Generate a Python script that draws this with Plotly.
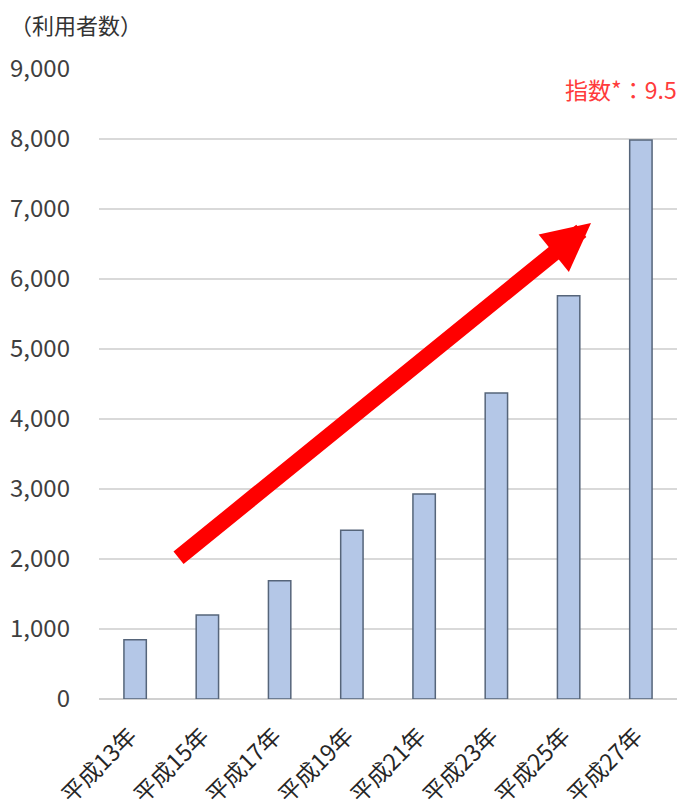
import plotly.graph_objects as go

categories = ["平成13年", "平成15年", "平成17年", "平成19年", "平成21年", "平成23年", "平成25年", "平成27年"]
users = [845, 1200, 1690, 2410, 2930, 4370, 5760, 7985]
y_ticks = [0, 1000, 2000, 3000, 4000, 5000, 6000, 7000, 8000, 9000]
y_tick_labels = ["0", "1,000", "2,000", "3,000", "4,000", "5,000", "6,000", "7,000", "8,000", "9,000"]

FONT = "Noto Sans CJK JP, Noto Sans, sans-serif"

fig = go.Figure()
fig.add_trace(go.Bar(
    x=categories, y=users,
    marker=dict(color="#B4C7E7", line=dict(color="#56657A", width=1.5)),
    hoverinfo="skip",
))

fig.update_layout(
    width=680, height=800,
    margin=dict(l=91, r=11, t=61, b=109),
    paper_bgcolor="white", plot_bgcolor="white",
    bargap=0.69,
    showlegend=False,
    font=dict(family=FONT, color="#404040", size=16),
    xaxis=dict(
        tickangle=-45, tickfont=dict(size=23, color="#262626"),
        showgrid=False, showline=False, ticks="",
        range=[-0.5, 7.5], automargin=False,
        ticklabelshift=-5, ticklabelstandoff=18,
    ),
    yaxis=dict(
        range=[0, 9000], tickvals=y_ticks, ticktext=y_tick_labels,
        tickfont=dict(size=24, color="#3F3F3F"),
        gridcolor="#D9D9D9", gridwidth=1.5, automargin=False,
        zeroline=True, zerolinecolor="#D0D0D0", zerolinewidth=1.5,
        ticklabelstandoff=28,
    ),
)

fig.add_annotation(
    xref="paper", yref="paper", x=-0.1574, y=1.0714, xanchor="left", yanchor="middle",
    text="（利用者数）", showarrow=False,
    font=dict(size=22, color="#333333", family=FONT),
)
fig.add_annotation(
    xref="paper", yref="paper", x=0.8028, y=0.968, xanchor="left", yanchor="middle",
    text="指数*：9.5", showarrow=False,
    font=dict(size=23, color="#FF3B3B", family=FONT),
)
fig.add_annotation(
    xref="x", yref="y", axref="x", ayref="y",
    x=6.31, y=6800, ax=0.58, ay=2000,
    text="", showarrow=True, arrowhead=2, arrowsize=0.6,
    arrowwidth=16, arrowcolor="#FF0000", standoff=0,
)

fig.write_html("out.html")
